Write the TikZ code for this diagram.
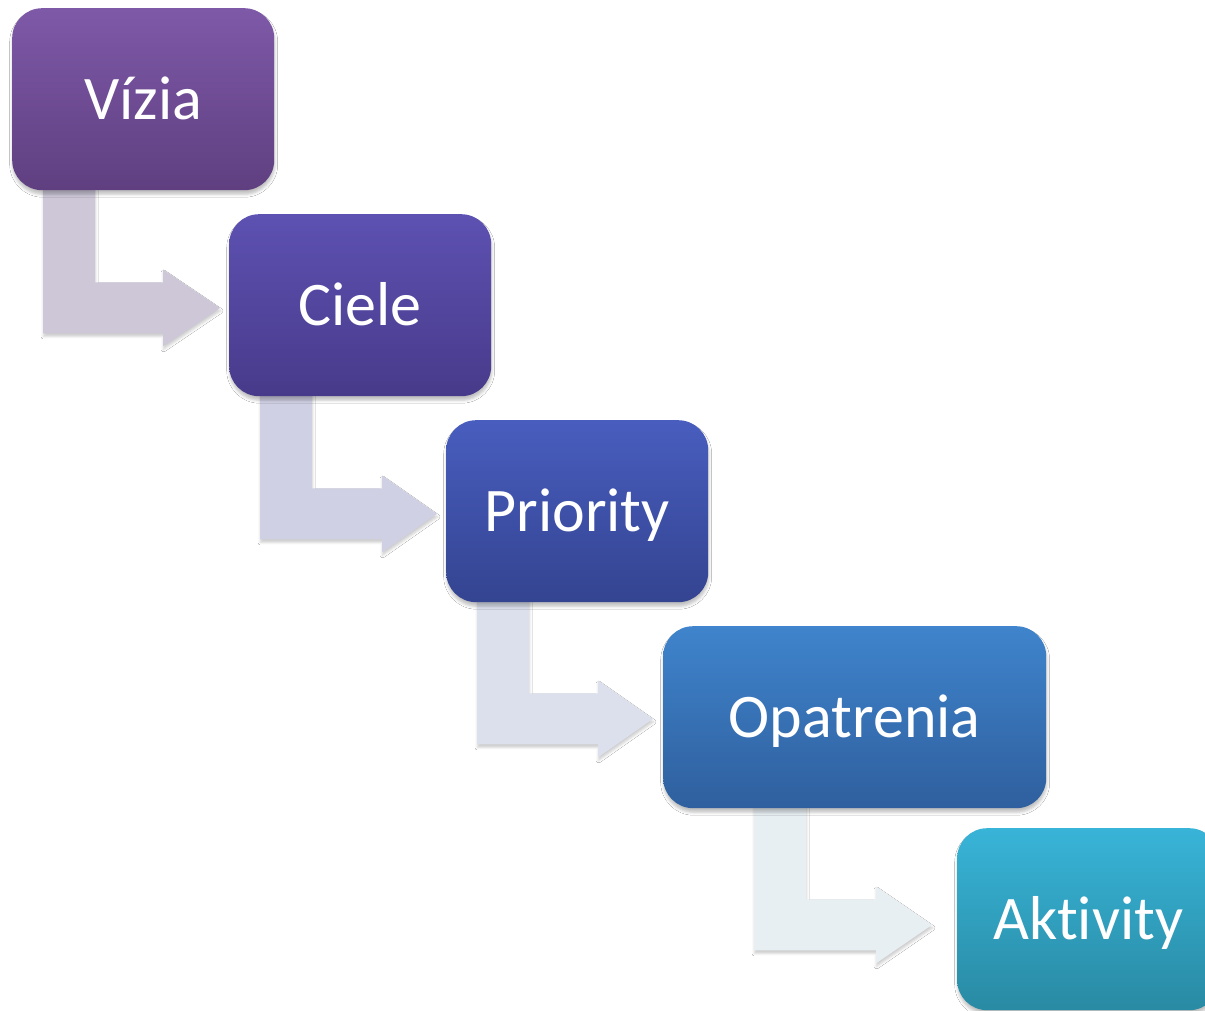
\documentclass[tikz,border=0pt]{standalone}
\usepackage{fontspec}
\setmainfont{Carlito}[Ligatures=NoCommon]
\usetikzlibrary{calc,shadows.blur,backgrounds}
\definecolor{vTop}{RGB}{126,89,168}
\definecolor{vBot}{RGB}{95,63,128}
\definecolor{cTop}{RGB}{93,81,178}
\definecolor{cBot}{RGB}{72,58,138}
\definecolor{pTop}{RGB}{72,93,190}
\definecolor{pBot}{RGB}{52,68,145}
\definecolor{oTop}{RGB}{63,132,204}
\definecolor{oBot}{RGB}{47,95,158}
\definecolor{aTop}{RGB}{56,180,216}
\definecolor{aBot}{RGB}{41,138,163}
\definecolor{arr1}{RGB}{205,199,216}
\definecolor{arr2}{RGB}{208,208,228}
\definecolor{arr3}{RGB}{220,224,236}
\definecolor{arr4}{RGB}{232,239,243}
\begin{document}
\begin{tikzpicture}[x=1pt,y=-1pt,
  box/.style={rounded corners=30pt, minimum width=262pt, minimum height=182pt,
    inner sep=0pt, anchor=north west, text=white,
    font=\fontsize{62}{70}\selectfont, text height=40pt, text depth=0pt,
    blur shadow={shadow xshift=0.5pt,shadow yshift=-4pt,shadow opacity=25,shadow blur radius=3pt}},
  bentarrow/.style={draw=none,
    blur shadow={shadow xshift=0.5pt,shadow yshift=-3pt,shadow opacity=20,shadow blur radius=2.5pt}}]
\useasboundingbox (0,0) rectangle (1205,1011);
\clip (0,0) rectangle (1205,1011);
\node[box, top color=vTop, bottom color=vBot] (v) at (12,8) {Vízia};
\node[box, top color=cTop, bottom color=cBot] (c) at (229,214) {Ciele};
\node[box, top color=pTop, bottom color=pBot] (p) at (446,420) {Priority};
\node[box, top color=oTop, bottom color=oBot, minimum width=383pt] (o) at (663,626) {Opatrenia};
\node[box, top color=aTop, bottom color=aBot] (a) at (957,828) {Aktivity};
\begin{scope}[on background layer]
\fill[white] (0,0) rectangle (1205,1011);
\fill[bentarrow, fill=arr1] ($(v.south west)+(31,-10)$) -- ++(52,0) -- ++(0,102) -- ++(68,0) -- ++(0,-13) -- ++(57,38.5) -- ++(-57,38.5) -- ++(0,-13) -- ++(-120,0) -- cycle;
\fill[bentarrow, fill=arr2] ($(c.south west)+(31,-10)$) -- ++(52,0) -- ++(0,102) -- ++(70,0) -- ++(0,-13) -- ++(55,38.5) -- ++(-55,38.5) -- ++(0,-13) -- ++(-122,0) -- cycle;
\fill[bentarrow, fill=arr3] ($(p.south west)+(31,-10)$) -- ++(52,0) -- ++(0,101) -- ++(69,0) -- ++(0,-13) -- ++(55,38.5) -- ++(-55,38.5) -- ++(0,-13) -- ++(-121,0) -- cycle;
\fill[bentarrow, fill=arr4] ($(o.south west)+(91,-10)$) -- ++(52,0) -- ++(0,101) -- ++(70,0) -- ++(0,-13) -- ++(56,38.5) -- ++(-56,38.5) -- ++(0,-13) -- ++(-122,0) -- cycle;
\end{scope}
\end{tikzpicture}
\end{document}
